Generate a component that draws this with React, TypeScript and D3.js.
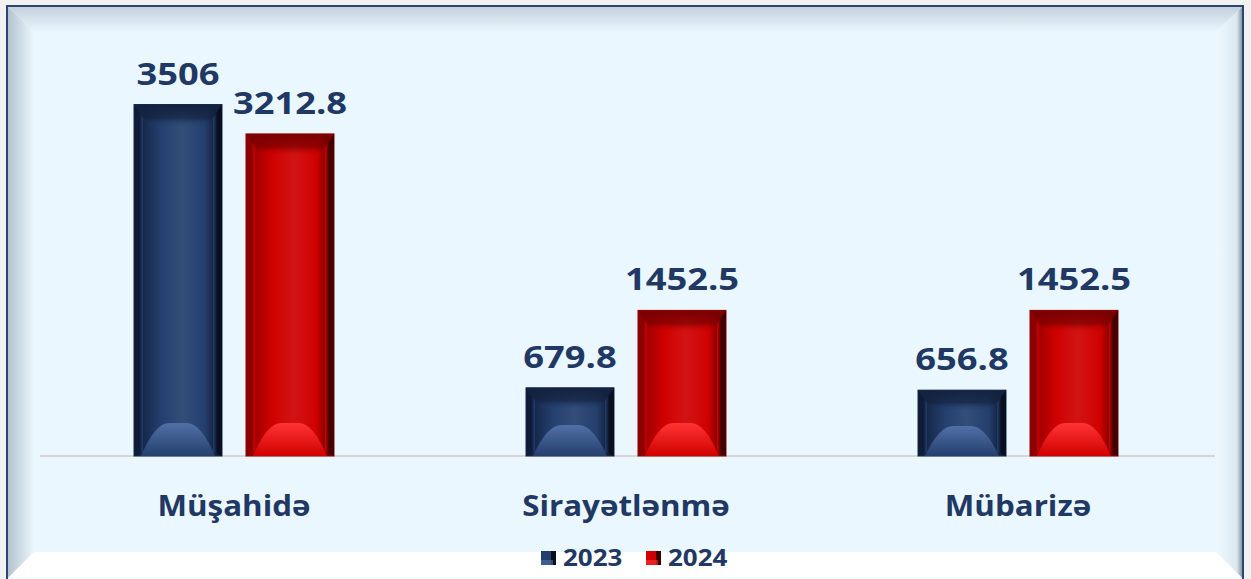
import React from "react";
import * as d3 from "d3";

const categories = ["Müşahidə", "Sirayətlənmə", "Mübarizə"];
const years = ["2023", "2024"];
const values2023 = [3506, 679.8, 656.8];
const values2024 = [3212.8, 1452.5, 1452.5];
const labels2023 = ["3506", "679.8", "656.8"];
const labels2024 = ["3212.8", "1452.5", "1452.5"];

const W = 1251;
const H = 579;
const FONT = "'Open Sans', 'Noto Sans', sans-serif";
const TEXT = "#1f3864";

const palette: Record<string, { base: string; edgeL: string; edgeR: string; topDark: string; hump: string; stroke: string }> = {
  "2023": { base: "#243f6e", edgeL: "#0e1c38", edgeR: "#070f20", topDark: "#13223f", hump: "#5170a6", stroke: "#1a2a4a" },
  "2024": { base: "#d00000", edgeL: "#8a0000", edgeR: "#3f0000", topDark: "#7a0000", hump: "#ff3434", stroke: "#900000" },
};

function Bar({ x, y, w, h, year }: { x: number; y: number; w: number; h: number; year: string }) {
  const c = palette[year];
  const b = 9;
  const tb = Math.min(22, h / 3.2);
  const hump = Math.min(33, h / 2.2);
  const bot = y + h;
  return (
    <g>
      <rect x={x} y={y} width={w} height={h} fill={`url(#face${year})`} stroke={c.stroke} strokeWidth={1} />
      {/* left edge */}
      <polygon points={`${x},${y} ${x + b},${y + tb * 0.6} ${x + b},${bot - 4} ${x},${bot}`} fill={`url(#edgeL${year})`} />
      {/* right edge */}
      <polygon points={`${x + w},${y} ${x + w - b},${y + tb * 0.6} ${x + w - b},${bot - 4} ${x + w},${bot}`} fill={`url(#edgeR${year})`} />
      {/* top bevel */}
      <polygon points={`${x},${y} ${x + w},${y} ${x + w - b - 6},${y + tb} ${x + b + 6},${y + tb}`} fill={`url(#top${year})`} />
      {/* bottom bevel highlight */}
      <path
        d={`M${x + b - 2},${bot} Q${x + w * 0.24},${bot - hump} ${x + w * 0.4},${bot - hump} L${x + w * 0.6},${bot - hump} Q${x + w * 0.76},${bot - hump} ${x + w - b + 2},${bot} Z`}
        fill={`url(#hump${year})`}
      />
    </g>
  );
}

export default function App() {
  const x0 = d3.scaleBand<string>().domain(categories).range([38, 1214]).paddingInner(0).paddingOuter(0);
  const x1 = d3.scaleBand<string>().domain(years).range([0, x0.bandwidth()]).paddingInner(24 / 112).paddingOuter(96 / 112);
  const y = d3.scaleLinear().domain([0, 4000]).range([456, 55]);

  const series: Record<string, number[]> = { "2023": values2023, "2024": values2024 };
  const labels: Record<string, string[]> = { "2023": labels2023, "2024": labels2024 };

  return (
    <svg width={W} height={H} style={{ position: "absolute", left: 0, top: 0 }} fontFamily={FONT}>
      <defs>
        {years.map((yr) => {
          const c = palette[yr];
          return (
            <React.Fragment key={yr}>
              <linearGradient id={`face${yr}`} x1="0" x2="1" y1="0" y2="0">
                <stop offset="0" stopColor={c.edgeL} />
                <stop offset="0.3" stopColor={c.base} />
                <stop offset="0.55" stopColor={c.base} stopOpacity={0.92} />
                <stop offset="0.8" stopColor={c.base} />
                <stop offset="1" stopColor={c.edgeR} />
              </linearGradient>
              <linearGradient id={`edgeL${yr}`} x1="0" x2="1" y1="0" y2="0">
                <stop offset="0" stopColor={c.edgeL} stopOpacity={0.6} />
                <stop offset="0.6" stopColor={c.edgeL} />
                <stop offset="1" stopColor={c.base} />
              </linearGradient>
              <linearGradient id={`edgeR${yr}`} x1="0" x2="1" y1="0" y2="0">
                <stop offset="0" stopColor={c.base} />
                <stop offset="0.5" stopColor={c.edgeR} />
                <stop offset="1" stopColor={c.edgeR} stopOpacity={0.8} />
              </linearGradient>
              <linearGradient id={`top${yr}`} x1="0" x2="0" y1="0" y2="1">
                <stop offset="0" stopColor={c.topDark} />
                <stop offset="0.6" stopColor={c.topDark} stopOpacity={0.7} />
                <stop offset="1" stopColor={c.base} stopOpacity={0} />
              </linearGradient>
              <linearGradient id={`hump${yr}`} x1="0" x2="0" y1="0" y2="1">
                <stop offset="0" stopColor={c.hump} />
                <stop offset="1" stopColor={c.base} />
              </linearGradient>
            </React.Fragment>
          );
        })}
        <linearGradient id="topBev" x1="0" x2="0" y1="0" y2="1">
          <stop offset="0" stopColor="#c4d0da" />
          <stop offset="1" stopColor="#eaf7fe" />
        </linearGradient>
        <linearGradient id="leftBev" x1="0" x2="1" y1="0" y2="0">
          <stop offset="0" stopColor="#b3c3cf" />
          <stop offset="1" stopColor="#eaf7fe" />
        </linearGradient>
        <linearGradient id="rightBev" x1="0" x2="1" y1="0" y2="0">
          <stop offset="0" stopColor="#eef9ff" />
          <stop offset="0.8" stopColor="#dce8f0" />
          <stop offset="1" stopColor="#8a98a6" />
        </linearGradient>
      </defs>
      <rect x={0} y={0} width={W} height={H} fill="#f2f2f2" />
      {/* frame */}
      <rect x={7} y={6} width={1236} height={574} fill="#eaf7fe" />
      <polygon points="8,7 1242,7 1216,32 34,32" fill="url(#topBev)" />
      <polygon points="8,7 34,32 34,552 8,578" fill="url(#leftBev)" />
      <polygon points="1242,7 1216,32 1216,552 1242,578" fill="url(#rightBev)" />
      <polygon points="8,578 34,552 1216,552 1242,578" fill="#ffffff" />
      <rect x={7} y={6} width={1236} height={574} fill="none" stroke="#2c4573" strokeWidth={2} />

      {/* baseline */}
      <line x1={40} x2={1215} y1={y(0)} y2={y(0)} stroke="#d6d6d6" strokeWidth={2} />

      {categories.map((cat, i) => (
        <g key={cat} transform={`translate(${x0(cat)},0)`}>
          {years.map((yr) => {
            const v = series[yr][i];
            const bx = x1(yr) as number;
            const by = y(v);
            const bh = y(0) - by;
            return (
              <g key={yr}>
                <Bar x={bx} y={by} w={x1.bandwidth()} h={bh} year={yr} />
                <text
                  transform={`translate(${bx + x1.bandwidth() / 2},${by - 20}) scale(1.19,1)`}
                  textAnchor="middle"
                  fontSize={30.5}
                  fontWeight={700}
                  fill={TEXT}
                >
                  {labels[yr][i]}
                </text>
              </g>
            );
          })}
          <text
            transform={`translate(${x0.bandwidth() / 2},516) scale(1.08,1)`}
            textAnchor="middle"
            fontSize={29}
            fontWeight={700}
            fill={TEXT}
          >
            {cat}
          </text>
        </g>
      ))}

      {/* legend */}
      {years.map((yr, i) => {
        const lx = 541 + i * 105;
        const c = palette[yr];
        return (
          <g key={yr}>
            <rect x={lx} y={551} width={15} height={14} fill={c.base} />
            <rect x={lx + 10} y={551} width={5} height={14} fill={c.edgeR} />
            <rect x={lx} y={560} width={12} height={5} fill={c.hump} opacity={0.6} />
            <text transform={`translate(${lx + 22},566) scale(1.13,1)`} fontSize={23} fontWeight={700} fill={TEXT}>
              {yr}
            </text>
          </g>
        );
      })}
    </svg>
  );
}
